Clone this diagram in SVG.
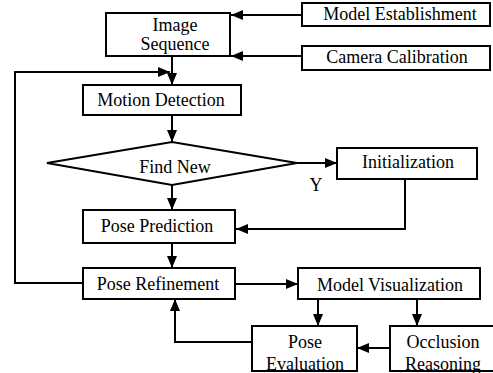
<svg xmlns="http://www.w3.org/2000/svg" width="493" height="373" viewBox="0 0 493 373">
<defs>
<marker id="ah" markerWidth="12" markerHeight="10" viewBox="0 0 12 10" refX="12" refY="5" orient="auto" markerUnits="userSpaceOnUse">
<path d="M0,0 L12,5 L0,10 Z" fill="#000"/>
</marker>
<style>
.box{fill:#fff;stroke:#000;stroke-width:2}
.t{font-family:"Liberation Serif","Times New Roman",serif;font-size:18px;fill:#000;text-anchor:middle}
.c{fill:none;stroke:#000;stroke-width:2}
.a{fill:none;stroke:#000;stroke-width:2;marker-end:url(#ah)}
</style>
</defs>
<rect width="493" height="373" fill="#fff"/>
<g id="connectors">
<path class="a" d="M302,15 H231"/>
<path class="a" d="M302,56 H231"/>
<path class="a" d="M172,56 V85"/>
<path class="a" d="M83,283 H15 V72 H170"/>
<path class="a" d="M172,115 V142"/>
<path class="a" d="M297,163 H337"/>
<path class="a" d="M405,179 V229 H236"/>
<path class="a" d="M172,185 V210"/>
<path class="a" d="M172,243 V268"/>
<path class="a" d="M235,284 H298"/>
<path class="a" d="M252,342 H175 V299"/>
<path class="a" d="M390,348 H357"/>
<path class="a" d="M318,299 V326"/>
<path class="a" d="M417,299 V326"/>
</g>
<g id="image-sequence"><rect class="box" x="106" y="13" width="124" height="43"/><text class="t" x="175" y="31">Image</text><text class="t" x="175" y="50">Sequence</text></g>
<g id="model-establishment"><rect class="box" x="302" y="3" width="188" height="23"/><text class="t" x="400" y="20">Model Establishment</text></g>
<g id="camera-calibration"><rect class="box" x="302" y="46" width="188" height="24"/><text class="t" x="397" y="63">Camera Calibration</text></g>
<g id="motion-detection"><rect class="box" x="83" y="85" width="158" height="30"/><text class="t" x="161" y="106">Motion Detection</text></g>
<g id="find-new"><polygon class="box" points="47,163 172,142 297,163 172,185"/><text class="t" x="175" y="173">Find New</text></g>
<g id="y-label"><text class="t" x="316" y="191">Y</text></g>
<g id="initialization"><rect class="box" x="337" y="148" width="140" height="31"/><text class="t" x="408" y="168">Initialization</text></g>
<g id="pose-prediction"><rect class="box" x="83" y="210" width="152" height="33"/><text class="t" x="157" y="232">Pose Prediction</text></g>
<g id="pose-refinement"><rect class="box" x="83" y="268" width="152" height="31"/><text class="t" x="158" y="290">Pose Refinement</text></g>
<g id="model-visualization"><rect class="box" x="298" y="268" width="182" height="31"/><text class="t" x="390" y="291">Model Visualization</text></g>
<g id="pose-evaluation"><rect class="box" x="252" y="326" width="105" height="45"/><text class="t" x="305" y="348">Pose</text><text class="t" x="305" y="370">Evaluation</text></g>
<g id="occlusion-reasoning"><rect class="box" x="390" y="326" width="106" height="45"/><text class="t" x="443" y="348">Occlusion</text><text class="t" x="443" y="370">Reasoning</text></g>
</svg>
